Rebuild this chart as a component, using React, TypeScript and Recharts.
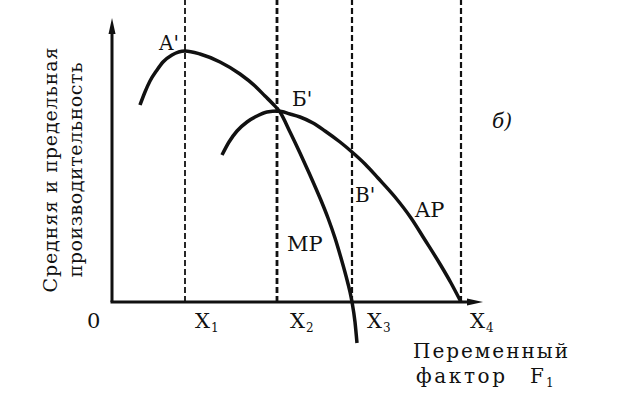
import React from 'react';
import { ComposedChart, Line, XAxis, YAxis, ReferenceLine, ReferenceDot } from 'recharts';

// Marginal productivity (MP) curve: variable factor vs. productivity (arbitrary units)
const mpFactor = [28, 33, 38, 45, 51, 60, 73, 88, 108, 128, 143, 153, 161, 168, 178, 188, 198, 208, 216, 223, 229, 234, 238, 240, 243, 245];
const mpValue = [197, 210, 221, 232, 240, 247, 251, 248, 240, 228, 216, 206, 198, 190, 170, 149, 127, 104, 84, 64, 44, 26, 10, 0, -20, -41];

// Average productivity (AP) curve
const apFactor = [110, 117, 125, 135, 145, 155, 166, 178, 188, 201, 213, 228, 240, 253, 266, 283, 299, 313, 328, 339, 349];
const apValue = [147, 160, 171, 180, 186, 190, 191, 188, 185, 179, 171, 160, 150, 138, 124, 105, 84, 62, 38, 19, 0];

// Factor levels X1..X4
const levelValues = [73, 165, 240, 349];
const levelNames = ['1', '2', '3', '4'];
const levelWidths = [1.8, 2.8, 2.2, 2.2];

const mpData = mpFactor.map((x, i) => ({ x, y: mpValue[i] }));
const apData = apFactor.map((x, i) => ({ x, y: apValue[i] }));

const FONT = "'DejaVu Serif', 'Liberation Serif', serif";
const INK = '#111';

const arrowShape = (props: any) => {
  const { x1, y1, x2, y2 } = props;
  const dx = x2 - x1;
  const dy = y2 - y1;
  const len = Math.hypot(dx, dy) || 1;
  const ux = dx / len;
  const uy = dy / len;
  const L = 16;
  const W = 3.5;
  const bx = x2 - ux * L;
  const by = y2 - uy * L;
  const px = -uy;
  const py = ux;
  return (
    <g>
      <line x1={x1} y1={y1} x2={bx + ux * 2} y2={by + uy * 2} stroke={INK} strokeWidth={3} />
      <polygon
        points={`${x2},${y2} ${bx + px * W},${by + py * W} ${bx - px * W},${by - py * W}`}
        fill={INK}
      />
    </g>
  );
};

const label = (content: React.ReactNode, extra: any = {}) => (props: any) => (
  <text
    x={props.cx}
    y={props.cy}
    style={{ fontFamily: FONT }}
    fontSize={20}
    fill={INK}
    {...extra}
  >
    {content}
  </text>
);

const rotLabel = (content: string, length: number) => (props: any) => (
  <text
    x={props.cx}
    y={props.cy}
    transform={`rotate(-90 ${props.cx} ${props.cy})`}
    textAnchor="middle"
    style={{ fontFamily: FONT }}
    fontSize={19}
    fill={INK}
    textLength={length}
  >
    {content}
  </text>
);

const xLabel = (sub: string) => (props: any) => (
  <text x={props.cx} y={props.cy} style={{ fontFamily: FONT }} fontSize={21} fill={INK}>
    X
    <tspan fontSize={12} dy={4} dx={1}>{sub}</tspan>
  </text>
);

function xLabelF(props: any) {
  return (
    <text x={props.cx} y={props.cy} style={{ fontFamily: FONT }} fontSize={20} fill={INK}>
      F
      <tspan fontSize={12} dy={4} dx={2}>1</tspan>
    </text>
  );
}

export default function App() {
  return (
    <div style={{ position: 'absolute', left: 0, top: 0, width: 622, height: 413, background: '#fff' }}>
      <ComposedChart width={622} height={413} margin={{ top: 0, right: 0, bottom: 0, left: 0 }}>
        <XAxis type="number" dataKey="x" domain={[-112, 510]} allowDataOverflow hide />
        <YAxis type="number" domain={[-111, 302]} allowDataOverflow hide />

        {levelValues.map((v, i) => (
          <ReferenceLine
            key={'lvl' + i}
            segment={[{ x: v, y: 0 }, { x: v, y: 302 }]}
            stroke={INK}
            strokeWidth={levelWidths[i]}
            strokeDasharray="6 3"
            ifOverflow="visible"
          />
        ))}

        <ReferenceLine segment={[{ x: 0, y: 0 }, { x: 0, y: 284 }]} shape={arrowShape} ifOverflow="visible" />
        <ReferenceLine segment={[{ x: -1.5, y: 0 }, { x: 371, y: 0 }]} shape={arrowShape} ifOverflow="visible" />

        <Line data={mpData} dataKey="y" type="monotone" stroke={INK} strokeWidth={3.5} dot={false} activeDot={false} isAnimationActive={false} />
        <Line data={apData} dataKey="y" type="monotone" stroke={INK} strokeWidth={3.5} dot={false} activeDot={false} isAnimationActive={false} />

        <ReferenceDot x={47} y={252} r={0} shape={label("A'")} />
        <ReferenceDot x={180} y={196} r={0} shape={label("Б'")} />
        <ReferenceDot x={380} y={174} r={0} shape={label('б)', { fontStyle: 'italic' })} />
        <ReferenceDot x={243} y={100} r={0} shape={label("В'")} />
        <ReferenceDot x={303} y={85} r={0} shape={label('AP', { fontSize: 21 })} />
        <ReferenceDot x={175} y={51} r={0} shape={label('MP', { fontSize: 21 })} />
        <ReferenceDot x={-25} y={-26} r={0} shape={label('0', { fontSize: 21 })} />

        {levelValues.map((v, i) => (
          <ReferenceDot key={'xl' + i} x={v + [10, 13, 15, 9][i]} y={-26} r={0} shape={xLabel(levelNames[i])} />
        ))}

        <ReferenceDot x={301} y={-56} r={0} shape={label('Переменный', { textLength: 155 })} />
        <ReferenceDot x={304} y={-81} r={0} shape={label('фактор', { textLength: 89 })} />
        <ReferenceDot x={418} y={-81} r={0} shape={xLabelF} />

        <ReferenceDot x={-55} y={132} r={0} shape={rotLabel('Средняя и предельная', 245)} />
        <ReferenceDot x={-30} y={132} r={0} shape={rotLabel('производительность', 215)} />
      </ComposedChart>
    </div>
  );
}
